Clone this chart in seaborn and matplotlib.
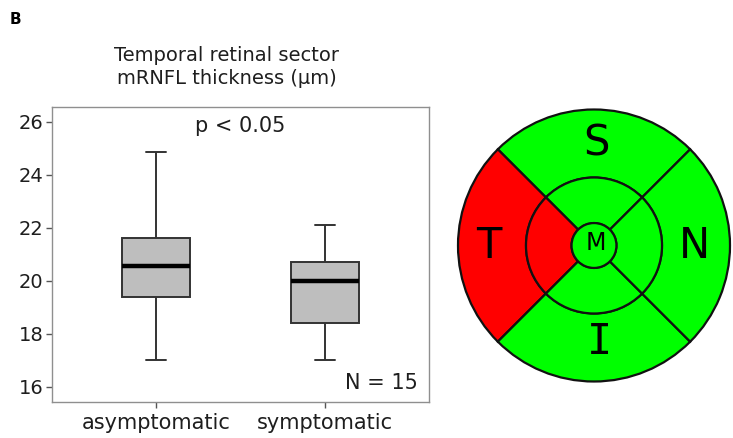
import numpy as np
import pandas as pd
import matplotlib
matplotlib.use("Agg")
import matplotlib.pyplot as plt
import seaborn as sns

# ---- data ----
groups = ["asymptomatic", "symptomatic"]
whisker_low = [17.0, 17.0]
q1 = [19.4, 18.4]
median = [20.55, 20.0]
q3 = [21.6, 20.7]
whisker_high = [24.85, 22.1]
yticks = [16, 18, 20, 22, 24, 26]

sectors = ["S", "T", "I", "N"]          # counter-clockwise from top
outer_colors = ["#00ff00", "#ff0000", "#00ff00", "#00ff00"]
inner_colors = ["#00ff00", "#ff0000", "#00ff00", "#00ff00"]
center_label = "M"
center_color = "#00ff00"

# build a dataframe whose quartiles equal the summary values
rows = []
for g, lo, a, m, b, hi in zip(groups, whisker_low, q1, median, q3, whisker_high):
    for v in (lo, a, m, b, hi):
        rows.append({"group": g, "value": v})
df = pd.DataFrame(rows)

sns.set_theme(style="white")
plt.rcParams["font.family"] = ["DejaVu Sans"]

fig = plt.figure(figsize=(7.33, 4.38), dpi=100)
ax = fig.add_axes([52/733, 1-402/438, (429-52)/733, (402-107)/438])

edge = "#333333"
sns.boxplot(data=df, x="group", y="value", order=groups, ax=ax,
            whis=(0, 100), width=0.40, color="#bebebe", saturation=1,
            linecolor=edge, linewidth=1.4, showfliers=False,
            medianprops=dict(color="black", linewidth=3.2),
            capwidths=0.115)

ax.set_xlim(-0.615, 1.615)
ax.set_ylim(15.42, 26.55)
ax.set_yticks(yticks)
ax.set_xlabel("")
ax.set_ylabel("")
for s in ax.spines.values():
    s.set_color("#8f8f8f")
    s.set_linewidth(1.0)
ax.tick_params(axis="both", which="both", direction="out", length=4,
               width=1.0, color="#555555", left=True, bottom=True)
ax.tick_params(axis="y", labelsize=14, labelcolor="#1e1e1e", pad=2)
ax.tick_params(axis="x", labelsize=15, labelcolor="#1e1e1e", pad=4)

ax.text(0.5, 0.935, "p < 0.05", transform=ax.transAxes, ha="center",
        va="center", fontsize=15, color="#1e1e1e")
ax.text(0.97, 0.065, "N = 15", transform=ax.transAxes, ha="right",
        va="center", fontsize=15, color="#1e1e1e")

fig.text(227/733, 1-67/438, "Temporal retinal sector\nmRNFL thickness (µm)",
         ha="center", va="center", fontsize=14, color="#1e1e1e",
         linespacing=1.25)
fig.text(10/733, 1-19/438, "B", ha="left", va="center", fontsize=11,
         fontweight="bold", color="black")

# ---- retinal sector diagram ----
cx, cy, rpx = 594, 245.5, 136
half = 1.02 * rpx
ax2 = fig.add_axes([(cx - half)/733, 1-(cy + half)/438, 2*half/733, 2*half/438])
r_out, r_mid, r_in = 1.0, 0.50, 0.165
wp = dict(edgecolor="#111111", linewidth=1.6)
ax2.pie([1, 1, 1, 1], colors=outer_colors, startangle=45, counterclock=True,
        radius=r_out, wedgeprops=dict(width=r_out - r_mid, **wp))
ax2.pie([1, 1, 1, 1], colors=inner_colors, startangle=45, counterclock=True,
        radius=r_mid, wedgeprops=dict(width=r_mid - r_in, **wp))
ax2.pie([1], colors=[center_color], radius=r_in, wedgeprops=wp)

label_pos = {"S": (0.02, 0.75), "T": (-0.77, 0.0), "I": (0.04, -0.71), "N": (0.74, 0.0)}
for name in sectors:
    x, y = label_pos[name]
    fam = ["DejaVu Sans Mono"] if name == "I" else ["DejaVu Sans"]
    ax2.text(x, y, name, ha="center", va="center", fontsize=30, color="black",
             family=fam)
ax2.text(0.01, 0.02, center_label, ha="center", va="center", fontsize=17, color="black")
ax2.set_xlim(-1.02, 1.02)
ax2.set_ylim(-1.02, 1.02)
ax2.set_aspect("equal")
ax2.axis("off")

fig.savefig("out.png", dpi=100)
